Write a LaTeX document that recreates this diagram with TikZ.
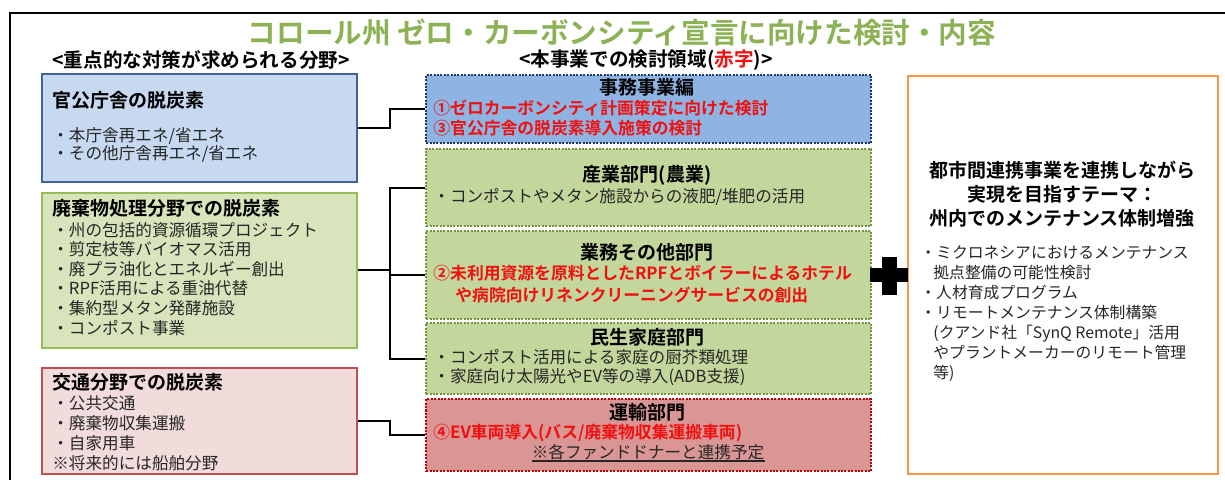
\documentclass[tikz,border=0pt]{standalone}
\usepackage{fontspec}
\setmainfont{Noto Sans CJK JP}[BoldFont={Noto Sans CJK JP Bold}]
\definecolor{bAfill}{HTML}{C6D9F0}\definecolor{bAline}{HTML}{3E6597}
\definecolor{bGfill}{HTML}{D8E4BC}\definecolor{bGline}{HTML}{9BBB59}
\definecolor{bRfill}{HTML}{F2DCDB}\definecolor{bRline}{HTML}{C0504D}
\definecolor{mAfill}{HTML}{8EB4E3}\definecolor{mAline}{HTML}{1F3864}
\definecolor{mGfill}{HTML}{C3D69B}\definecolor{mGline}{HTML}{76923C}
\definecolor{mEfill}{HTML}{DA9694}\definecolor{mEline}{HTML}{C00000}
\definecolor{orng}{HTML}{F79646}
\definecolor{redtxt}{HTML}{F01010}
\definecolor{titlegreen}{HTML}{8DB255}
\definecolor{itemtxt}{HTML}{262626}
\tikzset{
  lbox/.style={draw, line width=1pt, anchor=north west, inner sep=0pt, minimum width=157.5pt},
  mbox/.style={draw, line width=1.1pt, dash pattern=on 1pt off 0.7pt, anchor=north west, inner sep=0pt, minimum width=222.5pt},
  ttl/.style={font=\bfseries\fontsize{9.5}{11}\selectfont, inner sep=0pt},
  rtxt/.style={font=\bfseries\fontsize{8.4}{10}\selectfont, text=redtxt, inner sep=0pt, anchor=west},
  itm/.style={font=\fontsize{8.3}{9.8}\selectfont, text=itemtxt, inner sep=0pt},
  conn/.style={line width=1pt, black},
}
\begin{document}
\begin{tikzpicture}[x=0.5pt,y=-0.5pt]
\useasboundingbox (0,0) rectangle (1225,480);
% outer frame
\draw[line width=1pt] (10,500) -- (10,13) -- (1240,13);
% title
\node[font=\bfseries\fontsize{14.3}{16}\selectfont, text=titlegreen, inner sep=0pt] (title) at (622,33) {コロール州 ゼロ・カーボンシティ宣言に向けた検討・内容};
\node[font=\bfseries\fontsize{9.8}{11}\selectfont, inner sep=0pt] (subL) at (201,60) {<重点的な対策が求められる分野>};
\node[font=\bfseries\fontsize{9.8}{11}\selectfont, inner sep=0pt] (subM) at (646,60) {<本事業での検討領域(\textcolor{redtxt}{赤字})>};
% left boxes
\node[lbox, fill=bAfill, draw=bAline, minimum height=54pt] (box1) at (41,73) {};
\node[lbox, fill=bGfill, draw=bGline, minimum height=77.5pt] (box2) at (41,192) {};
\node[lbox, fill=bRfill, draw=bRline, minimum height=53pt] (box3) at (41,367) {};
\node[ttl, anchor=west] (t1) at (52,100) {官公庁舎の脱炭素};
\node[itm, anchor=north west, align=left, font=\fontsize{8.3}{9}\selectfont] (i1) at (52,126.7) {・本庁舎再エネ/省エネ\\・その他庁舎再エネ/省エネ};
\node[ttl, anchor=west] (t2) at (52,208) {廃棄物処理分野での脱炭素};
\node[itm, anchor=north west, align=left] (i2) at (52,221.7) {・州の包括的資源循環プロジェクト\\・剪定枝等バイオマス活用\\・廃プラ油化とエネルギー創出\\・RPF活用による重油代替\\・集約型メタン発酵施設\\・コンポスト事業};
\node[ttl, anchor=west] (t3) at (52,382) {交通分野での脱炭素};
\node[itm, anchor=north west, align=left, font=\fontsize{8.3}{10}\selectfont] (i3) at (52,394.7) {・公共交通\\・廃棄物収集運搬\\・自家用車\\※将来的には船舶分野};
% middle boxes
\node[mbox, fill=mAfill, draw=mAline, minimum height=34pt] (boxA) at (425,74) {};
\node[mbox, fill=mGfill, draw=mGline, minimum height=38.5pt] (boxB) at (425,148) {};
\node[mbox, fill=mGfill, draw=mGline, minimum height=44pt] (boxC) at (425,230) {};
\node[mbox, fill=mGfill, draw=mGline, minimum height=35.5pt] (boxD) at (425,322) {};
\node[mbox, fill=mEfill, draw=mEline, minimum height=36pt] (boxE) at (425,398) {};
\node[ttl] (tA) at (647,87) {事務事業編};
\node[rtxt] (rA1) at (433,108) {①ゼロカーボンシティ計画策定に向けた検討};
\node[rtxt] (rA2) at (433,128) {③官公庁舎の脱炭素導入施策の検討};
\node[ttl] (tB) at (647,175) {産業部門(農業)};
\node[itm, anchor=west] (iB) at (433,197) {・コンポストやメタン施設からの液肥/堆肥の活用};
\node[ttl] (tC) at (647,252) {業務その他部門};
\node[rtxt] (rC1) at (433,273) {②未利用資源を原料としたRPFとボイラーによるホテル};
\node[rtxt] (rC2) at (455,295) {や病院向けリネンクリーニングサービスの創出};
\node[ttl] (tD) at (647,337) {民生家庭部門};
\node[itm, anchor=west] (iD1) at (433,357) {・コンポスト活用による家庭の厨芥類処理};
\node[itm, anchor=west] (iD2) at (433,377) {・家庭向け太陽光やEV等の導入(ADB支援)};
\node[ttl] (tE) at (647,412) {運輸部門};
\node[rtxt] (rE) at (433,433) {④EV車両導入(バス/廃棄物収集運搬車両)};
\node[itm, inner sep=0pt] (nE) at (648,452) {※各ファンドドナーと連携予定};
\coordinate (ulL) at (532,461);
\coordinate (ulR) at (765,461);
\draw[line width=0.8pt, itemtxt] (ulL) -- (ulR);
% right box
\node[draw=orng, line width=1.2pt, anchor=north west, minimum width=155pt, minimum height=199pt, inner sep=0pt] (boxR) at (907,75) {};
\node[ttl, align=center, font=\bfseries\fontsize{9.5}{12}\selectfont, anchor=north] (tR) at (1062,160.5) {都市間連携事業を連携しながら\\実現を目指すテーマ：\\州内でのメンテナンス体制増強};
\node[itm, anchor=north west, align=left, font=\fontsize{7.9}{10}\selectfont] (iR) at (920,245) {・ミクロネシアにおけるメンテナンス\\\hspace*{6.5pt}拠点整備の可能性検討\\・人材育成プログラム\\・リモートメンテナンス体制構築\\\hspace*{6.5pt}(クアンド社「SynQ Remote」活用\\\hspace*{6.5pt}やプラントメーカーのリモート管理\\\hspace*{6.5pt}等)};
% plus sign
\fill (870,268) rectangle (908,282);
\fill (882,257) rectangle (897,295);
% connectors
\coordinate (busx) at (390,0);
\draw[conn] (box1.east) -- (box1.east -| busx) |- (boxA.west);
\draw[conn] (boxB.west) -- (boxB.west -| busx) -- (boxD.west -| busx) -- (boxD.west);
\draw[conn] (box2.east) -- (box2.east -| busx);
\draw[conn] (boxC.west) -- (boxC.west -| busx);
\draw[conn] (box3.east) -- (box3.east -| busx) |- (boxE.west);
\end{tikzpicture}
\end{document}
